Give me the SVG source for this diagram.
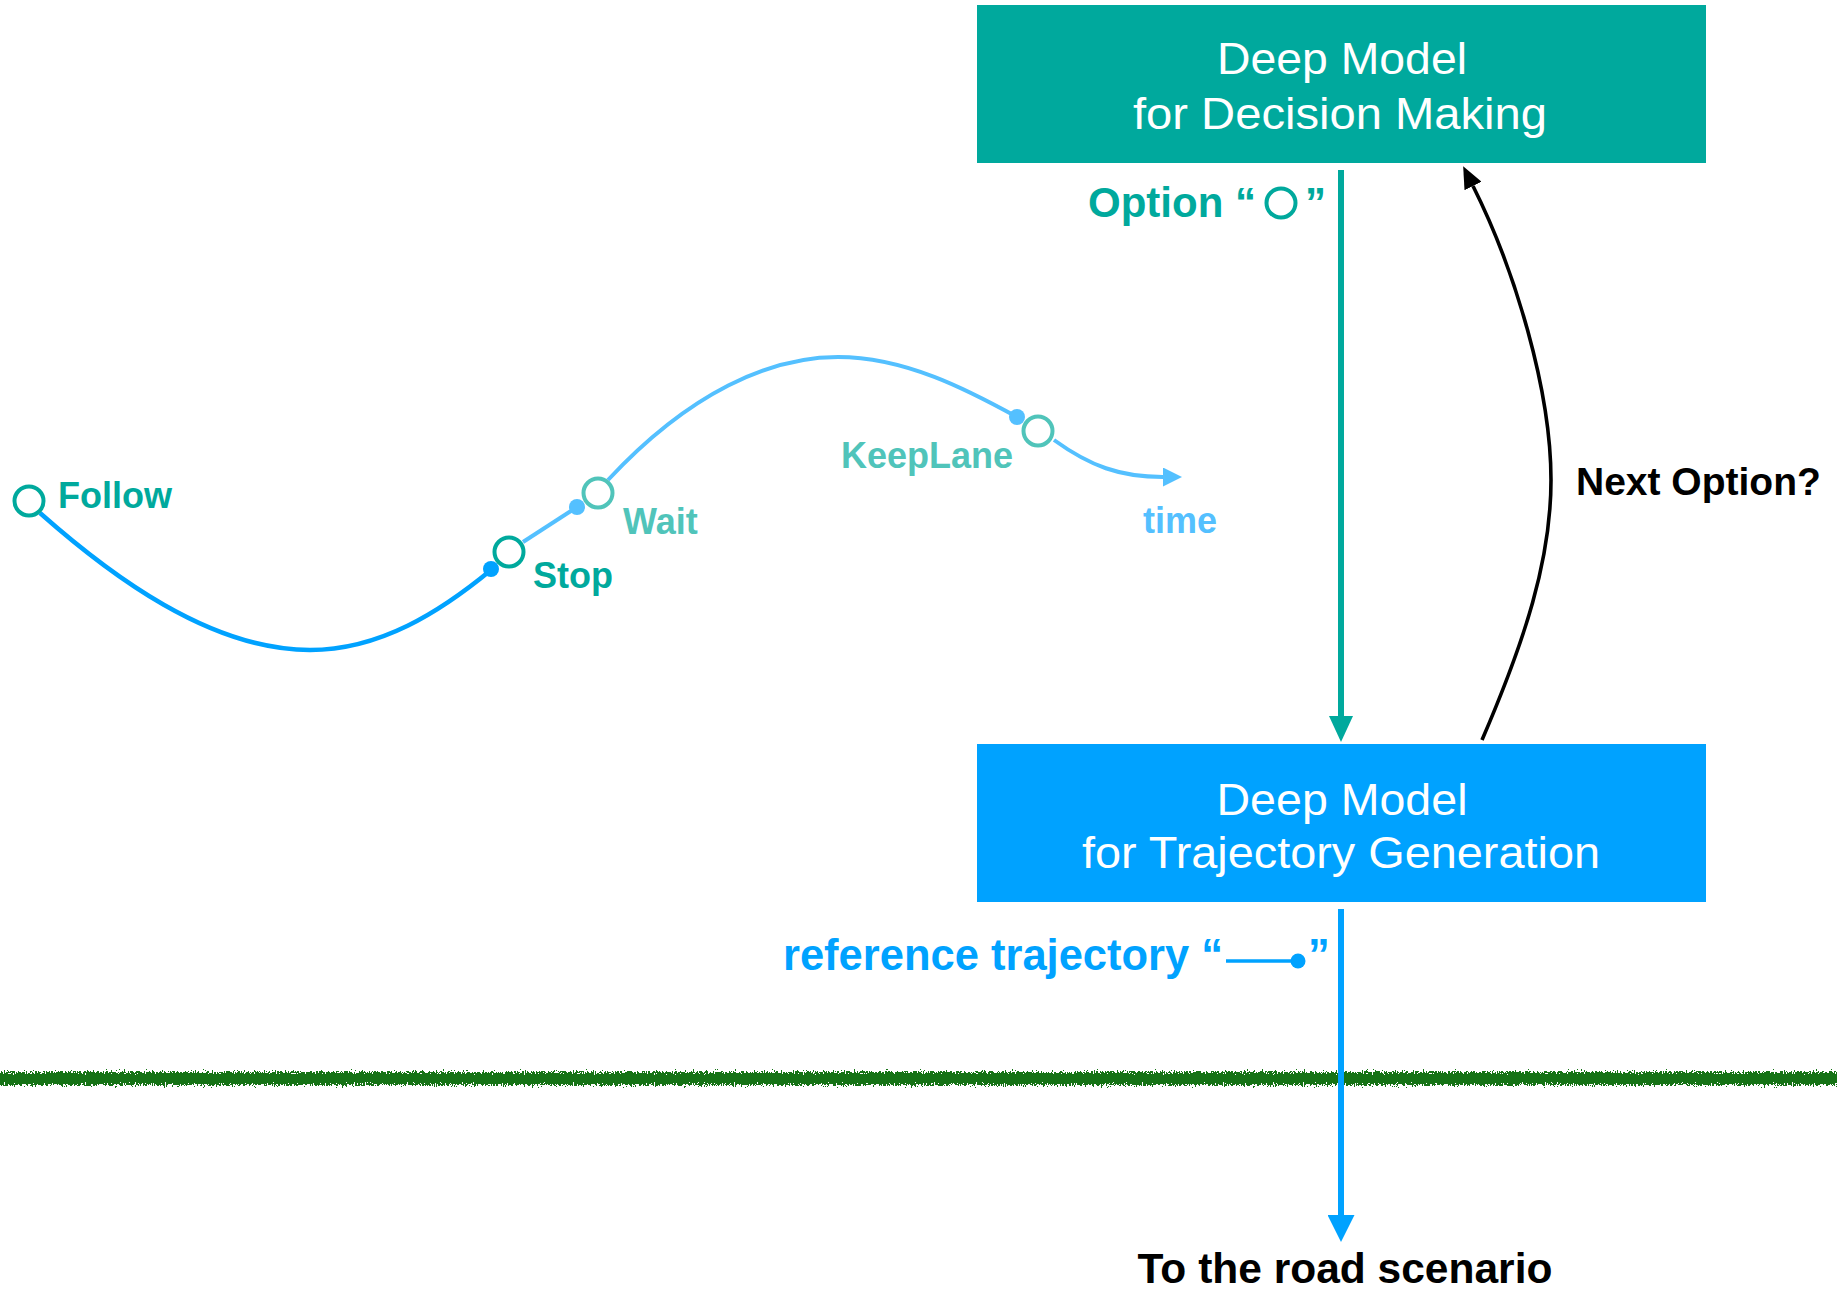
<svg xmlns="http://www.w3.org/2000/svg" width="1837" height="1292" viewBox="0 0 1837 1292">
  <style>
    .box-text { font-family: "Liberation Sans", Arial, Helvetica, sans-serif; font-size: 45px; fill: #ffffff; text-anchor: middle; }
    .lbl { font-family: "Liberation Sans", Arial, Helvetica, sans-serif; font-weight: bold; }
    .opt { fill: #ffffff; stroke-width: 4; }
    .teal { fill: #00A99D; }
    .teal-lt { fill: #50C4BA; }
    .blue { fill: #00A2FF; }
    .blue-lt { fill: #54C0FF; }
  </style>
  <defs>
    <marker id="headTeal" markerUnits="userSpaceOnUse" markerWidth="26" markerHeight="24" viewBox="0 0 26 24" refX="0" refY="12" orient="auto">
      <path d="M0,0 L26,12 L0,24 z" fill="#00A99D"/>
    </marker>
    <marker id="headBlue" markerUnits="userSpaceOnUse" markerWidth="27" markerHeight="27" viewBox="0 0 27 27" refX="0" refY="13.5" orient="auto">
      <path d="M0,0 L27,13.5 L0,27 z" fill="#00A2FF"/>
    </marker>
    <marker id="headBlack" markerUnits="userSpaceOnUse" markerWidth="22" markerHeight="19" viewBox="0 0 22 19" refX="0" refY="9.5" orient="auto">
      <path d="M0,0 L22,9.5 L0,19 z" fill="#000000"/>
    </marker>
    <marker id="headTime" markerUnits="userSpaceOnUse" markerWidth="19" markerHeight="19" viewBox="0 0 19 19" refX="0" refY="9.5" orient="auto">
      <path d="M0,0 L19,9.5 L0,19 z" fill="#54C0FF"/>
    </marker>
    <filter id="grass" x="-2%" y="-300%" width="104%" height="700%">
      <feTurbulence type="fractalNoise" baseFrequency="0.9 0.45" numOctaves="2" seed="7" result="noise"/>
      <feDisplacementMap in="SourceGraphic" in2="noise" scale="10" xChannelSelector="R" yChannelSelector="G"/>
    </filter>
  </defs>

  <!-- ground line -->
  <g id="ground">
    <rect x="-20" y="1072" width="1880" height="13" fill="#137313" filter="url(#grass)"/>
  </g>

  <!-- decision model -->
  <g id="decision-model">
    <rect x="977" y="5" width="729" height="158" fill="#00A99D"/>
    <text class="box-text" x="1342" y="74" textLength="250" lengthAdjust="spacingAndGlyphs">Deep Model</text>
    <text class="box-text" x="1340" y="129" textLength="414" lengthAdjust="spacingAndGlyphs">for Decision Making</text>
  </g>

  <!-- trajectory model -->
  <g id="trajectory-model">
    <rect x="977" y="744" width="729" height="158" fill="#00A2FF"/>
    <text class="box-text" x="1342" y="815" textLength="251" lengthAdjust="spacingAndGlyphs">Deep Model</text>
    <text class="box-text" x="1341" y="868" textLength="518" lengthAdjust="spacingAndGlyphs">for Trajectory Generation</text>
  </g>

  <!-- connectors between the models -->
  <g id="connectors" fill="none">
    <path d="M1341,170 L1341,716" stroke="#00A99D" stroke-width="6" marker-end="url(#headTeal)"/>
    <path d="M1482,740 C1525,640 1551,560 1551,480 C1551,390 1515,270 1473,186" stroke="#000000" stroke-width="3.6" marker-end="url(#headBlack)"/>
    <path d="M1341,909 L1341,1215" stroke="#00A2FF" stroke-width="6" marker-end="url(#headBlue)"/>
  </g>

  <!-- connector labels -->
  <g id="option-label">
    <text class="lbl teal" x="1088" y="217" font-size="42">Option “</text>
    <circle class="opt" cx="1281" cy="203" r="14.5" stroke="#00A99D"/>
    <text class="lbl teal" x="1305" y="217" font-size="42">”</text>
  </g>
  <g id="next-option-label">
    <text class="lbl" x="1576" y="495" font-size="39" fill="#000000">Next Option?</text>
  </g>
  <g id="reference-label">
    <text class="lbl blue" x="783" y="970" font-size="43.5">reference trajectory “</text>
    <line x1="1226" y1="961" x2="1296" y2="961" stroke="#00A2FF" stroke-width="3.5"/>
    <circle cx="1298" cy="961" r="7.5" fill="#00A2FF"/>
    <text class="lbl blue" x="1308" y="970" font-size="43.5">”</text>
  </g>
  <g id="road-label">
    <text class="lbl" x="1345" y="1283" font-size="42.5" fill="#000000" text-anchor="middle">To the road scenario</text>
  </g>

  <!-- option sequence over time -->
  <g id="option-timeline" fill="none">
    <path d="M40,513 C110,575 210,650 310,650 C380,650 440,612 491,570" stroke="#00A2FF" stroke-width="4.5"/>
    <path d="M523,542 L577,507" stroke="#54C0FF" stroke-width="4"/>
    <path d="M608,480 C690,392 770,357 838,357 C905,357 968,390 1017,417" stroke="#54C0FF" stroke-width="4"/>
    <path d="M1054,440 C1090,466 1120,477 1163,477" stroke="#54C0FF" stroke-width="4" marker-end="url(#headTime)"/>
  </g>

  <g id="opt-follow">
    <circle class="opt" cx="29" cy="501" r="14.5" stroke="#00A99D"/>
    <text class="lbl teal" x="58" y="508" font-size="36">Follow</text>
  </g>
  <g id="opt-stop">
    <circle cx="491" cy="569" r="8" fill="#00A2FF"/>
    <circle class="opt" cx="509" cy="552" r="14.5" stroke="#00A99D"/>
    <text class="lbl teal" x="533" y="588" font-size="36">Stop</text>
  </g>
  <g id="opt-wait">
    <circle cx="577" cy="507" r="8" fill="#54C0FF"/>
    <circle class="opt" cx="598" cy="493" r="14.5" stroke="#50C4BA"/>
    <text class="lbl teal-lt" x="623" y="534" font-size="36">Wait</text>
  </g>
  <g id="opt-keeplane">
    <circle cx="1017" cy="417" r="8" fill="#54C0FF"/>
    <circle class="opt" cx="1038" cy="431" r="14.5" stroke="#50C4BA"/>
    <text class="lbl teal-lt" x="841" y="468" font-size="36">KeepLane</text>
  </g>
  <g id="time-label">
    <text class="lbl blue-lt" x="1143" y="533" font-size="36">time</text>
  </g>
</svg>
